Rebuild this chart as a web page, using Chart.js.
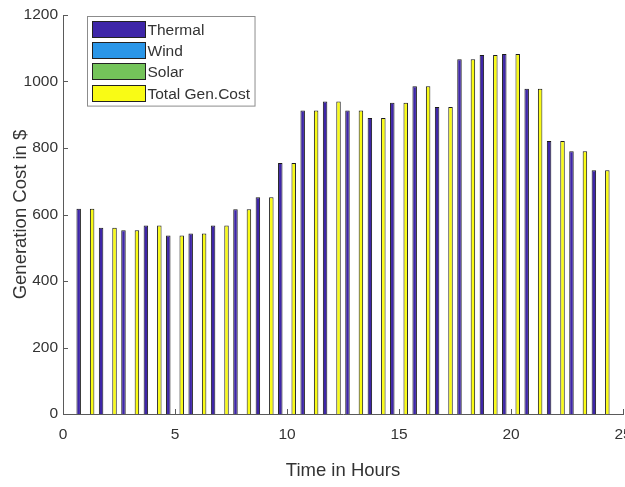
<!DOCTYPE html>
<html>
<head>
<meta charset="utf-8">
<title>Generation Cost</title>
<script src="https://cdn.jsdelivr.net/npm/chart.js@4.4.1/dist/chart.umd.min.js"></script>
<style>
    html, body { margin: 0; padding: 0; background: #ffffff; }
</style>
</head>
<body>
<canvas id="cost-chart" width="625" height="487"></canvas>
<script>
// Hourly generation cost per source

const hours = [1, 2, 3, 4, 5, 6, 7, 8, 9, 10, 11, 12,
               13, 14, 15, 16, 17, 18, 19, 20, 21, 22, 23, 24];

const thermalCost = [617, 560, 553, 567, 537, 543, 567, 616, 652, 755, 913, 940,
                     913, 890, 936, 986, 923, 1067, 1080, 1083, 978, 821, 790, 733];
const windCost    = [0, 0, 0, 0, 0, 0, 0, 0, 0, 0, 0, 0,
                     0, 0, 0, 0, 0, 0, 0, 0, 0, 0, 0, 0];
const solarCost   = [0, 0, 0, 0, 0, 0, 0, 0, 0, 0, 0, 0,
                     0, 0, 0, 0, 0, 0, 0, 0, 0, 0, 0, 0];
const totalCost   = [617, 560, 553, 567, 537, 543, 567, 616, 652, 755, 913, 940,
                     913, 890, 936, 986, 923, 1067, 1080, 1083, 978, 821, 790, 733];

const seriesNames = ['Thermal', 'Wind', 'Solar', 'Total Gen.Cost'];
const seriesColors = ['#3e26a8', '#2a96e8', '#74c45a', '#f9fb15'];

const xTicks = [0, 5, 10, 15, 20, 25];
const yTicks = [0, 200, 400, 600, 800, 1000, 1200];

const axisColor = '#5a5a5a';
const textColor = '#333333';
const fontFamily = '"Liberation Sans", Arial, Helvetica, sans-serif';

function toPoints(values) {
    return hours.map((h, i) => ({ x: h, y: values[i] }));
}

// MATLAB-style inward tick marks and a boxed legend in the top-left corner
const axesDecor = {
    id: 'axesDecor',
    afterDraw(chart) {
        const { ctx, chartArea, scales: { x, y } } = chart;
        ctx.save();

        ctx.strokeStyle = axisColor;
        ctx.lineWidth = 1;
        ctx.beginPath();
        x.ticks.forEach(t => {
            const px = Math.round(x.getPixelForValue(t.value)) + 0.5;
            ctx.moveTo(px, chartArea.bottom);
            ctx.lineTo(px, chartArea.bottom - 5);
        });
        y.ticks.forEach(t => {
            const py = Math.round(y.getPixelForValue(t.value)) + 0.5;
            ctx.moveTo(chartArea.left, py);
            ctx.lineTo(chartArea.left + 5, py);
        });
        ctx.stroke();

        // legend
        const datasets = chart.data.datasets;
        ctx.font = '15.5px ' + fontFamily;
        const textWidth = Math.max(...datasets.map(d => ctx.measureText(d.label).width));
        const left = chartArea.left + 24.5;
        const top = chartArea.top + 1.5;
        const swatchW = 53;
        const swatchH = 16;
        const rowStep = 21.4;
        const boxW = 60 + textWidth + 5;
        const boxH = 5 + rowStep * datasets.length - 1;

        ctx.fillStyle = '#ffffff';
        ctx.fillRect(left, top, boxW, boxH);
        ctx.strokeStyle = '#8c8c8c';
        ctx.strokeRect(left, top, boxW, boxH);

        ctx.textBaseline = 'middle';
        ctx.textAlign = 'left';
        datasets.forEach((d, i) => {
            const sy = Math.round(top + 4 + i * rowStep) + 0.5;
            ctx.fillStyle = d.backgroundColor;
            ctx.fillRect(left + 5, sy, swatchW, swatchH);
            ctx.strokeStyle = '#222222';
            ctx.strokeRect(left + 5, sy, swatchW, swatchH);
            ctx.fillStyle = textColor;
            ctx.fillText(d.label, left + 60, sy + swatchH / 2 + 1);
        });

        ctx.restore();
    }
};

const ctx = document.getElementById('cost-chart');

new Chart(ctx, {
    type: 'bar',
    data: {
        datasets: [thermalCost, windCost, solarCost, totalCost].map((values, i) => ({
            label: seriesNames[i],
            data: toPoints(values),
            backgroundColor: seriesColors[i],
            borderColor: '#1a1a1a',
            borderWidth: 1,
            categoryPercentage: 0.8,
            barPercentage: 1.0
        }))
    },
    options: {
        responsive: false,
        animation: false,
        layout: {
            padding: { left: 0, right: 2, top: 15, bottom: 0 }
        },
        plugins: {
            legend: { display: false },
            tooltip: { enabled: false }
        },
        scales: {
            x: {
                type: 'linear',
                min: 0,
                max: 25,
                offset: false,
                grid: { display: false, drawTicks: false },
                border: { display: true, color: axisColor, width: 1 },
                afterBuildTicks(scale) {
                    scale.ticks = xTicks.map(v => ({ value: v }));
                },
                ticks: {
                    color: textColor,
                    padding: 11,
                    maxRotation: 0,
                    callback: v => String(v),
                    font: { family: fontFamily, size: 15.5 }
                },
                title: {
                    display: true,
                    text: 'Time in Hours',
                    color: textColor,
                    font: { family: fontFamily, size: 18.5 },
                    padding: { top: 0, bottom: 5 }
                },
                afterFit(scale) {
                    scale.height = 73;
                    scale.paddingLeft = 0;
                    scale.paddingRight = 0;
                }
            },
            y: {
                type: 'linear',
                min: 0,
                max: 1200,
                grid: { display: false, drawTicks: false },
                border: { display: true, color: axisColor, width: 1 },
                afterBuildTicks(scale) {
                    scale.ticks = yTicks.map(v => ({ value: v }));
                },
                ticks: {
                    color: textColor,
                    padding: 5,
                    callback: v => String(v),
                    font: { family: fontFamily, size: 15.5 }
                },
                title: {
                    display: true,
                    text: 'Generation Cost in $',
                    color: textColor,
                    font: { family: fontFamily, size: 18.5 },
                    padding: { top: 10, bottom: 0 }
                },
                afterFit(scale) {
                    scale.width = 63;
                    scale.paddingTop = 0;
                    scale.paddingBottom = 0;
                }
            }
        }
    },
    plugins: [axesDecor]
});
</script>
</body>
</html>
